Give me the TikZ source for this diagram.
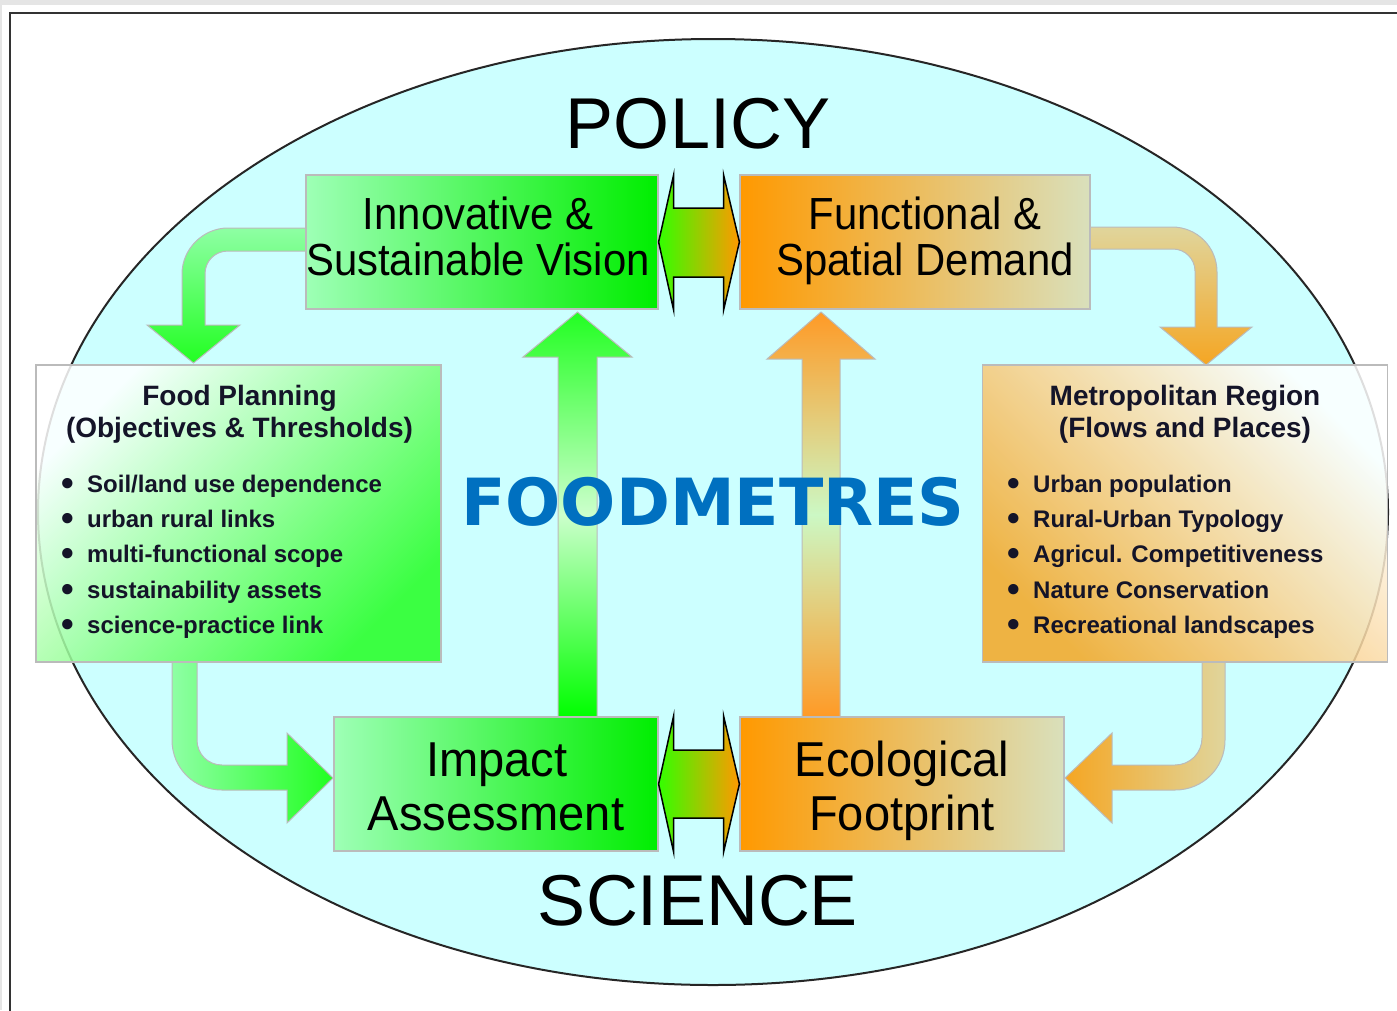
\documentclass[tikz,border=0pt]{standalone}
\usepackage{fontspec}
\setmainfont{Liberation Sans}
\newfontfamily\boxfont[FakeStretch=0.93]{Liberation Sans}
\newfontfamily\boxfontB[FakeStretch=0.96]{Liberation Sans}
\newfontfamily\brandfont{DejaVu Sans}
\usetikzlibrary{calc,shapes.geometric}

\definecolor{sky}{HTML}{CCFFFF}
\definecolor{greenA}{HTML}{9EFFB6}
\definecolor{greenB}{HTML}{00EE00}
\definecolor{orangeA}{HTML}{FF9900}
\definecolor{beigeB}{HTML}{D9E0BC}
\definecolor{brand}{HTML}{0070C0}
\definecolor{edge}{HTML}{BBBBBB}
\definecolor{paleg}{HTML}{CCFFCC}
\definecolor{paleo}{HTML}{CCF8C4}
\definecolor{brightg}{HTML}{22FF22}
\definecolor{softg}{HTML}{8EFFA4}
\definecolor{amber}{HTML}{F5A623}
\definecolor{tangerine}{HTML}{FF9A26}
\definecolor{sand}{HTML}{E0D59C}
\definecolor{ink}{HTML}{141428}
\definecolor{lime}{HTML}{33FF00}

\tikzset{
  gbox/.style={draw=edge, line width=1.2pt, inner sep=0pt,
    left color=greenA, right color=greenB},
  obox/.style={draw=edge, line width=1.2pt, inner sep=0pt,
    left color=orangeA, right color=beigeB},
  sidebox/.style={draw=edge, line width=1.2pt, inner sep=0pt, fill opacity=0.85,
    minimum width=405pt, minimum height=297pt},
  blockarrow/.style={draw=edge, line width=1pt},
  twoway/.style={draw=black, line width=1.5pt, left color=lime, right color=orangeA},
  bigline/.style={anchor=base, inner sep=0pt, font=\boxfont\fontsize{45}{45}\selectfont},
  bigline2/.style={anchor=base, inner sep=0pt, font=\boxfontB\fontsize{49}{49}\selectfont},
  headline/.style={anchor=base, inner sep=0pt, text=ink, font=\bfseries\fontsize{28}{28}\selectfont},
  itemline/.style={anchor=base west, inner sep=0pt, text=ink, font=\bfseries\fontsize{24}{24}\selectfont},
  banner/.style={anchor=base, inner sep=0pt, font=\fontsize{72}{72}\selectfont}
}

% bullet mark followed by the item text
\newcommand{\itemdot}{\makebox[26pt][l]{\raisebox{-3pt}{\scalebox{1.5}{\textbullet}}}}

\begin{document}
\begin{tikzpicture}[x=1pt,y=-1pt]
\useasboundingbox (0,0) rectangle (1397,1010);

% page and frame
\fill[gray!20] (0,0) rectangle (1397,1010);
\fill[white] (2,5) rectangle (1397,1010);
\draw[line width=2pt, black!80] (10,13) rectangle (1420,1030);

% the field
\node[ellipse, draw=black!85, line width=2pt, fill=sky, inner sep=0pt,
      minimum width=1350pt, minimum height=946pt] (field) at (713,512) {};

\node[banner] (policy) at (698,148) {POLICY};
\node[banner] (science) at (698,925) {SCIENCE};

% vertical arrows from science to policy
\path[blockarrow, top color=brightg, bottom color=green, middle color=paleg]
  (558,717) -- (558,357) -- (523,357) -- (577.5,312) -- (632,357) -- (597,357) -- (597,717) -- cycle;
\path[blockarrow, top color=tangerine, bottom color=tangerine, middle color=paleo]
  (802,717) -- (802,359) -- (767,359) -- (821,312) -- (875,359) -- (840,359) -- (840,717) -- cycle;

\node[anchor=base, inner sep=0pt, text=brand, font=\brandfont\bfseries\fontsize{65}{65}\selectfont]
  (brand) at (713,525) {FOODMETRES};

% curved arrows round the outside
\path[blockarrow, top color=softg, bottom color=brightg]
  (306,228) -- (228,228) .. controls (203,228) and (182,249) .. (182,274)
  -- (182,325) -- (147,325) -- (193.5,363) -- (240,325) -- (205,325)
  -- (205,274) .. controls (205,261) and (215,251) .. (228,251) -- (306,251) -- cycle;
\path[blockarrow, top color=sand, bottom color=amber]
  (1090,227) -- (1172,227) .. controls (1197,227) and (1217,247) .. (1217,272)
  -- (1217,327) -- (1252,327) -- (1206,365) -- (1160,327) -- (1195,327)
  -- (1195,271) .. controls (1195,259) and (1185,249) .. (1173,249) -- (1090,249) -- cycle;
\path[blockarrow, left color=softg, right color=brightg]
  (172,662) -- (172,740) .. controls (172,768) and (194,790) .. (222,790)
  -- (287,790) -- (287,823) -- (333,778) -- (287,733) -- (287,765)
  -- (222,765) .. controls (208,765) and (197,754) .. (197,740) -- (197,662) -- cycle;
\path[blockarrow, left color=amber, right color=sand]
  (1225,662) -- (1225,740) .. controls (1225,768) and (1203,790) .. (1175,790)
  -- (1112,790) -- (1112,823) -- (1065,778) -- (1112,733) -- (1112,765)
  -- (1175,765) .. controls (1190,765) and (1202,753) .. (1202,738) -- (1202,662) -- cycle;

% side panels
\node[sidebox, top color=white, bottom color=brightg, shading angle=45] (planning) at (238.5,513.5) {};
\node[sidebox, top color=white, bottom color=amber, shading angle=-45] (metro) at (1185,513.5) {};

\node[headline] (planT1) at (239.5,405) {Food Planning};
\node[headline] (planT2) at (239.5,437) {(Objectives \& Thresholds)};
\node[itemline] (plan1) at (61,492) {\itemdot Soil/land use dependence};
\node[itemline] (plan2) at (61,527) {\itemdot urban rural links};
\node[itemline] (plan3) at (61,562) {\itemdot multi-functional scope};
\node[itemline] (plan4) at (61,598) {\itemdot sustainability assets};
\node[itemline] (plan5) at (61,633) {\itemdot science-practice link};

\node[headline] (metroT1) at (1185,405) {Metropolitan Region};
\node[headline] (metroT2) at (1185,437) {(Flows and Places)};
\node[itemline] (metro1) at (1007,492) {\itemdot Urban population};
\node[itemline] (metro2) at (1007,527) {\itemdot Rural-Urban Typology};
\node[itemline] (metro3) at (1007,562) {\itemdot Agricul. Competitiveness};
\node[itemline] (metro4) at (1007,598) {\itemdot Nature Conservation};
\node[itemline] (metro5) at (1007,633) {\itemdot Recreational landscapes};

% the four core boxes
\node[gbox, minimum width=352pt, minimum height=134pt] (vision) at (482,242) {};
\node[obox, minimum width=350pt, minimum height=134pt] (demand) at (915,242) {};
\node[gbox, minimum width=324pt, minimum height=134pt] (impact) at (496,784) {};
\node[obox, minimum width=324pt, minimum height=134pt] (footprint) at (902,784) {};

\node[bigline] (visionL1) at (478,229) {Innovative \&};
\node[bigline] (visionL2) at (478,275) {Sustainable Vision};
\node[bigline] (demandL1) at (925,229) {Functional \&};
\node[bigline] (demandL2) at (925,275) {Spatial Demand};
\node[bigline2] (impactL1) at (497,776) {Impact};
\node[bigline2] (impactL2) at (496,830) {Assessment};
\node[bigline2] (footL1) at (902,776) {Ecological};
\node[bigline2] (footL2) at (902,830) {Footprint};

% two-way links between the paired boxes
\path[twoway] (vision.east) -- ($(vision.east)+(15,-67)$) -- ($(vision.east)+(15,-34)$)
  -- ($(vision.east)+(65,-34)$) -- ($(vision.east)+(65,-67)$) -- (demand.west)
  -- ($(vision.east)+(65,68)$) -- ($(vision.east)+(65,35)$)
  -- ($(vision.east)+(15,35)$) -- ($(vision.east)+(15,68)$) -- cycle;
\path[twoway] (impact.east) -- ($(impact.east)+(15,-68)$) -- ($(impact.east)+(15,-34)$)
  -- ($(impact.east)+(65,-34)$) -- ($(impact.east)+(65,-68)$) -- (footprint.west)
  -- ($(impact.east)+(65,68)$) -- ($(impact.east)+(65,34)$)
  -- ($(impact.east)+(15,34)$) -- ($(impact.east)+(15,68)$) -- cycle;
\end{tikzpicture}
\end{document}
